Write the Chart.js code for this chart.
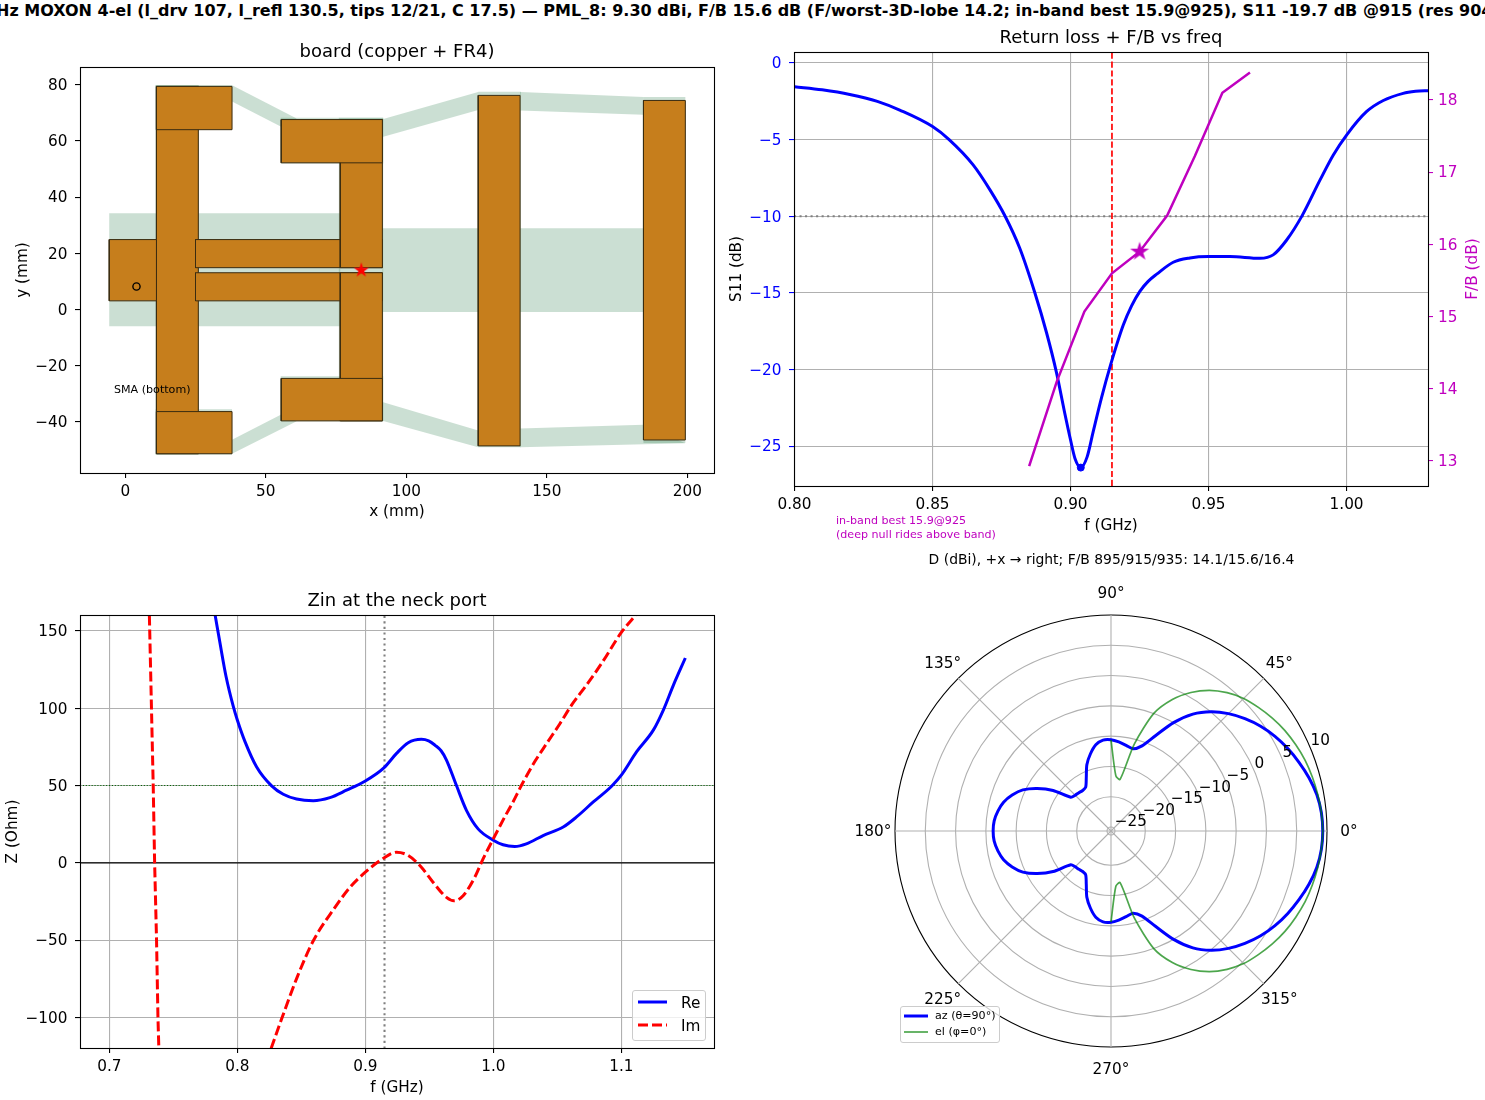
<!DOCTYPE html>
<html>
<head>
<meta charset="utf-8">
<script src="https://cdn.jsdelivr.net/npm/chart.js@4"></script>
<style>
  html, body { margin: 0; padding: 0; background: #fff; width: 1485px; height: 1100px; overflow: hidden; }
  canvas { position: absolute; }
  #suptitle { position: absolute; left: 742.5px; top: 2px; transform: translateX(-50%); white-space: nowrap;
    font: bold 16px "DejaVu Sans"; line-height: 18px; color: #000; }
  .legend { position: absolute; background: rgba(255,255,255,.8); border: 1px solid #ccc; border-radius: 3px;
    box-sizing: border-box; font-family: "DejaVu Sans"; color: #000; }
  .legend div { position: absolute; white-space: nowrap; }
  .legend svg { position: absolute; }
</style>
</head>
<body>
<div id="suptitle">915 MHz MOXON 4-el (l_drv 107, l_refl 130.5, tips 12/21, C 17.5) — PML_8: 9.30 dBi, F/B 15.6 dB (F/worst-3D-lobe 14.2; in-band best 15.9@925), S11 -19.7 dB @915 (res 904 MHz)</div>
<canvas id="board" style="left:0;top:42px" width="742" height="480"></canvas>
<canvas id="s11" style="left:720px;top:28px" width="765" height="517"></canvas>
<canvas id="zin" style="left:0;top:591px" width="742" height="507"></canvas>
<canvas id="polar" style="left:735px;top:552px" width="750" height="548"></canvas>

<div class="legend" style="left:632px;top:990px;width:74px;height:51px;font-size:15.3px">
  <svg style="left:5px;top:0" width="32" height="50"><line x1="0" x2="29" y1="11" y2="11" stroke="#0000ff" stroke-width="3"/><line x1="0" x2="29" y1="34" y2="34" stroke="#ff0000" stroke-width="3" stroke-dasharray="10 4"/></svg>
  <div style="left:48px;top:3px">Re</div><div style="left:48px;top:26px">Im</div>
</div>
<div class="legend" style="left:900px;top:1006px;width:100px;height:37px;font-size:11.1px">
  <svg style="left:3px;top:0" width="30" height="36"><line x1="0" x2="24" y1="9" y2="9" stroke="#0000ff" stroke-width="3"/><line x1="0" x2="24" y1="25" y2="25" stroke="rgba(0,128,0,.7)" stroke-width="1.7"/></svg>
  <div style="left:34px;top:2px">az (θ=90°)</div><div style="left:34px;top:18px">el (φ=0°)</div>
</div>

<script>
// board outline, mm: [x0, y0, x1, y1]
const copperRects = [
  [11.1, -51.3, 26, 79.4],
  [-5.7, 3.1, 11.1, 24.9],
  [11.1, 64, 38, 79.4],
  [11.1, -51.3, 38, -36.3],
  [25, 14.9, 91.5, 24.9],
  [25, 3.1, 91.5, 13.1],
  [76.5, 14.9, 91.5, 67.6],
  [76.5, -39.6, 91.5, 13.1],
  [55.5, 52.2, 91.5, 67.6],
  [55.5, -39.6, 91.5, -24.5],
  [125.6, -48.5, 140.5, 76.2],
  [184.4, -46.4, 199.3, 74.4]
];
const fr4Rects = [
  [-5.7, -5.9, 76.5, 34.3],
  [91.5, -0.9, 184.4, 28.9],
  [10.8, -51.6, 26.2, 79.9],
  [10.8, -51.6, 38, -35.5],
  [10.8, 64, 38, 79.9],
  [76, -39.7, 91.8, 68.2],
  [55.3, 52, 91.8, 68.2],
  [55.3, -39.7, 91.8, -23.7],
  [125.6, -49, 140.8, 77.5],
  [184.4, -47.5, 199.3, 75.6]
];
const fr4Links = [
  [[38, 79.8], [61, 68], [55.5, 65], [38, 74]],
  [[91.5, 67.7], [125.6, 77.4], [125.6, 71], [91.5, 61.4]],
  [[140.5, 77.4], [184.4, 75.6], [184.4, 69.3], [140.5, 70.8]],
  [[38, -51.3], [61, -39.7], [55.5, -37.3], [38, -46.3]],
  [[91.5, -39.6], [125.6, -49], [125.6, -43], [91.5, -32.9]],
  [[140.5, -49], [199.3, -47.6], [184.4, -41], [140.5, -42.3]]
];
const feedPoint = [{ x: 84, y: 14 }];
const smaPoint = [{ x: 4, y: 8.2 }];

// S11 and F/B vs frequency
const s11Freq = [0.80, 0.81, 0.82, 0.83, 0.8381, 0.85, 0.856, 0.8647, 0.8708, 0.8763, 0.8816, 0.887, 0.8913, 0.8949, 0.8979, 0.90, 0.9016, 0.9037, 0.906, 0.9082, 0.9112, 0.9145, 0.9191, 0.9221, 0.9251, 0.9281, 0.9312, 0.9372, 0.9432, 0.95, 0.9577, 0.9686, 0.9734, 0.9783, 0.9839, 0.9904, 0.9952, 1.00, 1.0072, 1.0133, 1.0205, 1.025, 1.03];
const s11Db = [-1.55, -1.75, -2.05, -2.5, -3.07, -4.15, -5, -6.65, -8.28, -10, -12.09, -14.96, -17.6, -20.2, -22.85, -24.6, -25.8, -26.4, -25.7, -24.05, -21.85, -19.7, -17.1, -15.85, -14.9, -14.25, -13.78, -13, -12.72, -12.63, -12.63, -12.74, -12.52, -11.55, -9.96, -7.63, -6, -4.7, -3.18, -2.45, -1.98, -1.85, -1.8];
const fbFreq = [0.885, 0.895, 0.905, 0.915, 0.925, 0.935, 0.945, 0.955, 0.965];
const fbDb = [12.93, 14.1, 15.07, 15.6, 15.9, 16.4, 17.22, 18.1, 18.38];

// Zin at the port
const reFreq = [0.7826, 0.7865, 0.7912, 0.7969, 0.80, 0.806, 0.8151, 0.8268, 0.8359, 0.8463, 0.8593, 0.8723, 0.8853, 0.90, 0.9145, 0.9244, 0.9335, 0.9438, 0.9495, 0.9543, 0.9592, 0.9634, 0.9712, 0.979, 0.9881, 1.00, 1.0076, 1.0167, 1.0258, 1.0389, 1.0546, 1.065, 1.0781, 1.0924, 1.10, 1.112, 1.1251, 1.1329, 1.1407, 1.15];
const reOhm = [160.6, 142, 120.5, 101, 92.4, 78.4, 62, 49.8, 44.4, 41.3, 40.2, 42.2, 47, 53, 61.5, 70.8, 77.7, 79.9, 78.9, 76.2, 72.5, 66.5, 50, 34, 22, 14.7, 11.7, 10.6, 12.3, 17.7, 23.2, 29.7, 39.4, 49.6, 56.7, 71.9, 86, 99, 115, 132.5];
const imFreqLow = [0.7313, 0.7343, 0.7354, 0.7369, 0.738, 0.7387];
const imOhmLow = [160, 50, 0, -50, -100, -120];
const imFreqHigh = [0.8264, 0.835, 0.8467, 0.8596, 0.8763, 0.888, 0.90, 0.9145, 0.9244, 0.9335, 0.9438, 0.9529, 0.9634, 0.9693, 0.9764, 0.9855, 0.992, 1.00, 1.0089, 1.0154, 1.0219, 1.0324, 1.0415, 1.052, 1.0611, 1.0728, 1.0846, 1.10, 1.112];
const imOhmHigh = [-120, -100, -74, -50, -28.8, -15.8, -6, 3.2, 6.9, 4.8, -2.8, -12.5, -22.3, -24.5, -21.2, -9.3, 2.6, 15.6, 29.7, 39.4, 50, 65.5, 77, 90, 102, 115, 129, 149, 161];

// radiation pattern, dBi, theta = 0, 5, ... 355 degrees counter-clockwise
const thetaDeg = [0, 5, 10, 15, 20, 25, 30, 35, 40, 45, 50, 55, 60, 65, 70, 75, 80, 85, 90, 95, 100, 105, 110, 115, 120, 125, 130, 135, 140, 145, 150, 155, 160, 165, 170, 175, 180, 185, 190, 195, 200, 205, 210, 215, 220, 225, 230, 235, 240, 245, 250, 255, 260, 265, 270, 275, 280, 285, 290, 295, 300, 305, 310, 315, 320, 325, 330, 335, 340, 345, 350, 355];
const azDb = [9.3, 9.2, 8.85, 8.2, 7.4, 6.55, 5.6, 4.5, 3.2, 1.75, 0.05, -2.1, -5, -8.3, -10.7, -11.6, -11.3, -10.9, -10.6, -10.6, -11.2, -12.5, -14, -16, -17.3, -17.5, -17.4, -17.3, -17, -14, -11.6, -9.6, -8.3, -7.3, -6.7, -6.3, -6.2, -6.3, -6.7, -7.3, -8.3, -9.6, -11.6, -14, -17, -17.3, -17.4, -17.5, -17.3, -16, -14, -12.5, -11.2, -10.6, -10.6, -10.9, -11.3, -11.6, -10.7, -8.3, -5, -2.1, 0.05, 1.75, 3.2, 4.5, 5.6, 6.55, 7.4, 8.2, 8.85, 9.2];
const elDb = [9.3, 9.2, 9, 8.75, 8.45, 8, 7.5, 6.85, 6.1, 5.3, 4.15, 2.7, 0.75, -1.7, -5, -10.8, -17, -16.5, -10.6, null, null, null, null, null, null, null, null, null, null, null, null, null, null, null, null, null, null, null, null, null, null, null, null, null, null, null, null, null, null, null, null, null, null, null, -10.6, -16.5, -17, -10.8, -5, -1.7, 0.75, 2.7, 4.15, 5.3, 6.1, 6.85, 7.5, 8, 8.45, 8.75, 9, 9.2];
const radialTicks = [-25, -20, -15, -10, -5, 0, 5, 10];

const BLUE = '#0000ff', RED = '#ff0000', MAG = '#bf00bf', GRID = '#b0b0b0';
const FONT = 'DejaVu Sans';
const TICK_PX = 15.28, TITLE_PX = 18;
Chart.defaults.font.family = FONT;
Chart.defaults.color = '#000';
Chart.defaults.plugins.legend.display = false;
Chart.defaults.plugins.tooltip.enabled = false;
Chart.defaults.animation = false;
Chart.defaults.devicePixelRatio = 1;

const minus = s => String(s).replace('-', '\u2212');

function star(radius, color) {
  const c = document.createElement('canvas');
  c.width = c.height = radius * 2 + 2;
  const g = c.getContext('2d');
  g.fillStyle = color;
  g.beginPath();
  for (let i = 0; i < 10; i++) {
    const r = i % 2 ? radius * 0.382 : radius;
    const a = -Math.PI / 2 + i * Math.PI / 5;
    g.lineTo(radius + 1 + r * Math.cos(a), radius + 1 + r * Math.sin(a));
  }
  g.closePath();
  g.fill();
  return c;
}

const frame = {
  id: 'frame',
  afterDatasetsDraw(chart) {
    const a = chart.chartArea, ctx = chart.ctx;
    ctx.save();
    ctx.strokeStyle = '#000';
    ctx.lineWidth = 1.1;
    ctx.strokeRect(a.left + 0.5, a.top + 0.5, a.width, a.height);
    ctx.restore();
  }
};

// text placed at data coordinates
function notes(list) {
  return {
    id: 'notes',
    afterDraw(chart) {
      const ctx = chart.ctx;
      ctx.save();
      list.forEach(n => {
        ctx.font = n.size + 'px "' + FONT + '"';
        ctx.fillStyle = n.color;
        ctx.textBaseline = 'middle';
        ctx.fillText(n.text, chart.scales.x.getPixelForValue(n.x), chart.scales.y.getPixelForValue(n.y));
      });
      ctx.restore();
    }
  };
}

// the right axis title of the S11 panel reads bottom to top
const fbLabel = {
  id: 'fbLabel',
  afterDraw(chart) {
    const s = chart.scales.y2, ctx = chart.ctx;
    ctx.save();
    ctx.translate(s.right - 12, (s.top + s.bottom) / 2);
    ctx.rotate(-Math.PI / 2);
    ctx.font = TICK_PX + 'px "' + FONT + '"';
    ctx.fillStyle = MAG;
    ctx.textAlign = 'center';
    ctx.textBaseline = 'middle';
    ctx.fillText('F/B (dB)', 0, 0);
    ctx.restore();
  }
};

function axis(cfg) {
  return {
    type: 'linear',
    position: cfg.position,
    min: cfg.min,
    max: cfg.max,
    afterFit: s => { if (cfg.width) s.width = cfg.width; if (cfg.height) s.height = cfg.height; },
    border: { display: false },
    grid: {
      display: true,
      drawOnChartArea: !!cfg.grid,
      color: GRID,
      lineWidth: 1.1,
      tickLength: 5,
      tickColor: cfg.tickColor || '#000',
      tickWidth: 1.1
    },
    ticks: {
      stepSize: cfg.step,
      includeBounds: false,
      autoSkip: false,
      maxRotation: 0,
      minRotation: 0,
      padding: cfg.pad,
      labelOffset: cfg.position === 'bottom' ? 0 : 1.3,
      color: cfg.color || '#000',
      font: { size: TICK_PX },
      callback: cfg.format || (v => minus(v))
    },
    title: {
      display: !!cfg.label,
      text: cfg.label,
      color: '#000',
      font: { size: TICK_PX },
      padding: cfg.labelPad
    }
  };
}

function titleOpts(text, size, bottom) {
  return { display: true, fullSize: false, text: text, font: { size: size, weight: 'normal' }, color: '#000', padding: { top: 0, bottom: bottom } };
}

const zip = (xs, ys) => xs.map((x, i) => ({ x: x, y: ys[i] }));

function path(data, color, width, extra) {
  return Object.assign({ data: data, showLine: true, borderColor: color, borderWidth: width, pointRadius: 0, fill: false }, extra);
}

function rectPts(r) {
  return [{ x: r[0], y: r[1] }, { x: r[2], y: r[1] }, { x: r[2], y: r[3] }, { x: r[0], y: r[3] }, { x: r[0], y: r[1] }];
}

// ---- board ----
const FR4 = 'rgba(47,127,79,0.25)';
const boardLayers = [];
fr4Rects.forEach(r => boardLayers.push(path(rectPts(r), 'transparent', 0, { fill: 'shape', backgroundColor: FR4 })));
fr4Links.forEach(p => {
  const pts = p.concat([p[0]]).map(q => ({ x: q[0], y: q[1] }));
  boardLayers.push(path(pts, 'transparent', 0, { fill: 'shape', backgroundColor: FR4 }));
});
copperRects.forEach(r => boardLayers.push(path(rectPts(r), '#3a2c10', 1, { fill: 'shape', backgroundColor: '#c67e1c' })));
boardLayers.push({ data: smaPoint, pointRadius: 3.6, pointBorderColor: '#000', pointBackgroundColor: 'transparent', pointBorderWidth: 1.4 });
boardLayers.push({ data: feedPoint, pointRadius: 8, pointStyle: star(8, RED) });

new Chart(document.getElementById('board'), {
  type: 'scatter',
  data: { datasets: boardLayers.reverse() },
  options: {
    responsive: false,
    layout: { padding: { right: 28 } },
    scales: {
      x: axis({ position: 'bottom', min: -16.1, max: 209.5, step: 50, height: 49, pad: 4.5, label: 'x (mm)', labelPad: { bottom: 0.8 } }),
      y: axis({ position: 'left', min: -58.15, max: 86.3, step: 20, width: 80, pad: 7.5, label: 'y (mm)', labelPad: { top: 13.8 } })
    },
    plugins: { title: titleOpts('board (copper + FR4)', TITLE_PX, 3.4) }
  },
  plugins: [frame, notes([{ text: 'SMA (bottom)', x: -4, y: -28.6, size: 11.1, color: '#000' }])]
});

// ---- S11 / F/B ----
const S11_MIN = -27.6, S11_MAX = 0.717, FREQ_MIN = 0.7998, FREQ_MAX = 1.0295;
const s11Layers = [
  path([{ x: FREQ_MIN, y: -10 }, { x: FREQ_MAX, y: -10 }], 'gray', 2.08, { borderDash: [2.08, 3.44] }),
  path([{ x: 0.915, y: S11_MIN }, { x: 0.915, y: S11_MAX }], RED, 1.67, { borderDash: [6.2, 2.7] }),
  path(zip(s11Freq, s11Db), BLUE, 3, { cubicInterpolationMode: 'monotone' }),
  { data: [{ x: 0.9037, y: -26.4 }], pointRadius: 3.5, pointBackgroundColor: BLUE, pointBorderColor: BLUE },
  path(zip(fbFreq, fbDb), MAG, 2.5, { yAxisID: 'y2' }),
  { data: [{ x: 0.925, y: 15.9 }], yAxisID: 'y2', pointRadius: 10, pointStyle: star(10, MAG) }
];

new Chart(document.getElementById('s11'), {
  type: 'scatter',
  data: { datasets: s11Layers.reverse() },
  options: {
    responsive: false,
    scales: {
      x: axis({ position: 'bottom', min: FREQ_MIN, max: FREQ_MAX, step: 0.05, height: 59, grid: true, pad: 4.5, label: 'f (GHz)', labelPad: { bottom: 10.3 }, format: v => v.toFixed(2) }),
      y: axis({ position: 'left', min: S11_MIN, max: S11_MAX, step: 5, width: 74, grid: true, pad: 7.5, color: BLUE, tickColor: BLUE, label: 'S11 (dB)', labelPad: { top: 7.8 } }),
      y2: axis({ position: 'right', min: 12.654, max: 18.665, step: 1, width: 57, pad: 5, color: MAG, tickColor: MAG })
    },
    plugins: { title: titleOpts('Return loss + F/B vs freq', TITLE_PX, 2.4) }
  },
  plugins: [frame, fbLabel, notes([
    { text: 'in-band best 15.9@925', x: 0.815, y: -29.88, size: 11.1, color: MAG },
    { text: '(deep null rides above band)', x: 0.815, y: -30.79, size: 11.1, color: MAG }
  ])]
});

// ---- Zin ----
const ZIN_MIN = 0.6771, ZIN_MAX = 1.1724;
const zinLayers = [
  path([{ x: 0.915, y: -120 }, { x: 0.915, y: 161 }], 'gray', 2.08, { borderDash: [2.08, 3.44] }),
  path([{ x: ZIN_MIN, y: 0 }, { x: ZIN_MAX, y: 0 }], '#000', 1.1),
  path([{ x: ZIN_MIN, y: 50 }, { x: ZIN_MAX, y: 50 }], '#006400', 1.1, { borderDash: [1.1, 1.8] }),
  path(zip(reFreq, reOhm), BLUE, 3, { cubicInterpolationMode: 'monotone' }),
  path(zip(imFreqLow, imOhmLow), RED, 3, { borderDash: [10, 4] }),
  path(zip(imFreqHigh, imOhmHigh), RED, 3, { borderDash: [10, 4], cubicInterpolationMode: 'monotone' })
];

new Chart(document.getElementById('zin'), {
  type: 'scatter',
  data: { datasets: zinLayers.reverse() },
  options: {
    responsive: false,
    layout: { padding: { right: 28 } },
    scales: {
      x: axis({ position: 'bottom', min: ZIN_MIN, max: ZIN_MAX, step: 0.1, height: 50, grid: true, pad: 4.5, label: 'f (GHz)', labelPad: { bottom: 1.3 }, format: v => v.toFixed(1) }),
      y: axis({ position: 'left', min: -119.7, max: 160.3, step: 50, width: 80, grid: true, pad: 7.5, label: 'Z (Ohm)', labelPad: { top: 3.8 } })
    },
    plugins: { title: titleOpts('Zin at the neck port', TITLE_PX, 2.4) }
  },
  plugins: [frame]
});

// ---- pattern ----
// radar runs clockwise from its start angle, the pattern runs counter-clockwise
const clockwise = a => a.map((_, i) => a[(a.length - i) % a.length]);
const polarLabels = clockwise(thetaDeg);
const polarText = {
  id: 'polarText',
  afterDraw(chart) {
    const s = chart.scales.r, ctx = chart.ctx;
    ctx.save();
    ctx.font = TICK_PX + 'px "' + FONT + '"';
    ctx.fillStyle = '#000';
    ctx.textAlign = 'center';
    ctx.textBaseline = 'middle';
    polarLabels.forEach((deg, i) => {
      if (deg % 45) return;
      const p = s.getPointPosition(i, s.drawingArea + 22);
      ctx.fillText(deg + '\u00b0', p.x, p.y + 1);
    });
    ctx.textAlign = 'left';
    ctx.textBaseline = 'bottom';
    const spoke = -Math.PI / 8;
    radialTicks.forEach(v => {
      const d = s.getDistanceFromCenterForValue(v);
      ctx.fillText(minus(v), s.xCenter + d * Math.cos(spoke), s.yCenter + d * Math.sin(spoke) + 0.5);
    });
    ctx.restore();
  }
};

new Chart(document.getElementById('polar'), {
  type: 'radar',
  data: {
    labels: polarLabels,
    datasets: [
      { data: clockwise(elDb), borderColor: 'rgba(0,128,0,0.7)', borderWidth: 1.7, pointRadius: 0, fill: false, tension: 0.25 },
      { data: clockwise(azDb), borderColor: BLUE, borderWidth: 3, pointRadius: 0, fill: false, tension: 0.25 }
    ]
  },
  options: {
    responsive: false,
    layout: { padding: { left: 160, right: 157, bottom: 52 } },
    scales: {
      r: {
        min: -25.66,
        max: 10,
        startAngle: 90,
        pointLabels: { display: false },
        angleLines: { display: true, color: GRID, lineWidth: c => (polarLabels[c.index] % 45 === 0 ? 1.1 : 0) },
        grid: { circular: true, lineWidth: 1.1, color: c => (c.tick.value === 10 ? '#000' : GRID) },
        ticks: { display: false, stepSize: 5, includeBounds: false }
      }
    },
    plugins: { title: titleOpts('D (dBi), +x \u2192 right; F/B 895/915/935: 14.1/15.6/16.4', 13.9, 46.3) }
  },
  plugins: [polarText]
});
</script>
</body>
</html>
